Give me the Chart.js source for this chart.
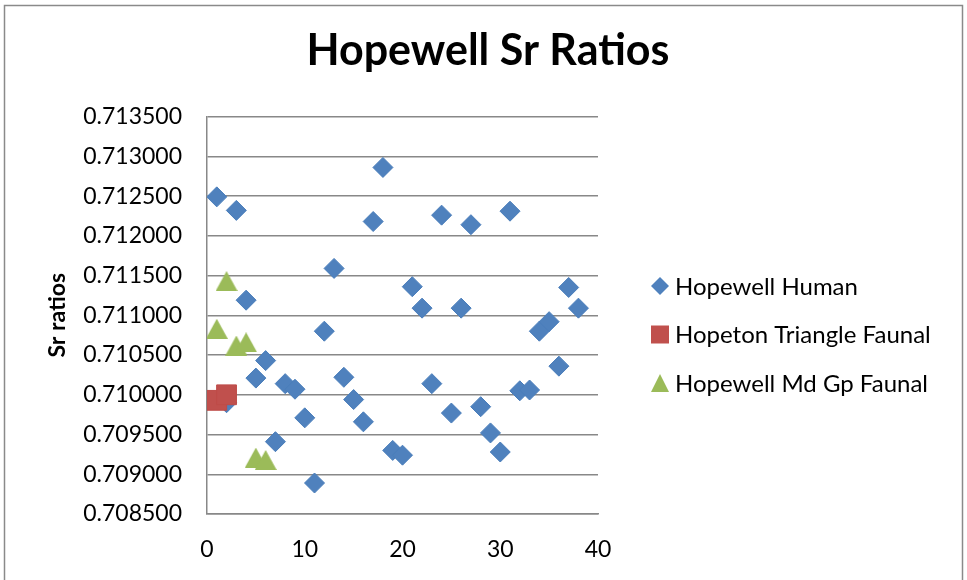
<!DOCTYPE html>
<html>
<head>
<meta charset="utf-8">
<title>Hopewell Sr Ratios</title>
<script src="https://cdn.jsdelivr.net/npm/chart.js@4.4.1/dist/chart.umd.min.js"></script>
<style>
    html, body { margin: 0; padding: 0; background: #fff; }
    #wrap { width: 967px; height: 580px; position: relative; }
</style>
</head>
<body>
<div id="wrap"><canvas id="srChart"></canvas></div>
<script>
/************************
 *      Data
 ************************/
const TITLE = "Hopewell Sr Ratios"
const Y_TITLE = "Sr ratios"
const SERIES_NAMES = ["Hopewell Human", "Hopeton Triangle Faunal", "Hopewell Md Gp Faunal"]

const HUMAN_X = [1, 2, 3, 4, 5, 6, 7, 8, 9, 10, 11, 12, 13, 14, 15, 16, 17, 18, 19,
    20, 21, 22, 23, 24, 25, 26, 27, 28, 29, 30, 31, 32, 33, 34, 35, 36, 37, 38]
const HUMAN_Y = [0.71249, 0.70990, 0.71232, 0.71119, 0.71021, 0.71043, 0.70941, 0.71014,
    0.71007, 0.70971, 0.70889, 0.71080, 0.71159, 0.71022, 0.70994, 0.70966, 0.71218,
    0.71286, 0.70930, 0.70924, 0.71136, 0.71109, 0.71014, 0.71226, 0.70977, 0.71109,
    0.71214, 0.70985, 0.70952, 0.70928, 0.71231, 0.71005, 0.71006, 0.71080, 0.71092,
    0.71036, 0.71135, 0.71109]

const HOPETON_X = [1, 2]
const HOPETON_Y = [0.70993, 0.71000]

const MDGP_X = [1, 2, 3, 4, 5, 6]
const MDGP_Y = [0.71083, 0.71143, 0.71062, 0.71066, 0.70921, 0.70918]

const X_TICKS = [0, 10, 20, 30, 40]
const Y_TICKS = [0.7085, 0.7090, 0.7095, 0.7100, 0.7105, 0.7110, 0.7115, 0.7120, 0.7125, 0.7130, 0.7135]

/************************
 *      Style
 ************************/
const FONT = "Lato, 'Open Sans', sans-serif"
const GRID_COLOR = "#888888"
const COLORS = ["#4F81BD", "#C0504D", "#9BBB59"]
const EDGES = ["#4A7EBB", "#BE4B48", "#98B954"]

/************************
 *      Method
 ************************/
// triangle marker as a small canvas so its box is centred on the value (like Excel)
const makeTriangle = (w, h, color) => {
    const c = document.createElement("canvas")
    c.width = w
    c.height = h
    const g = c.getContext("2d")
    g.fillStyle = color
    g.beginPath()
    g.moveTo(w / 2, 0)
    g.lineTo(w, h)
    g.lineTo(0, h)
    g.closePath()
    g.fill()
    return c
}

const STYLES = ["rectRot", "rect", makeTriangle(22, 20, COLORS[2])]
const RADII = [10, 14, 11]

const toPoints = (xs, ys) => xs.map((x, i) => ({ x: x, y: ys[i] }))

const makeDataset = (idx, xs, ys) => ({
    label: SERIES_NAMES[idx],
    data: toPoints(xs, ys),
    showLine: false,
    pointStyle: STYLES[idx],
    pointRadius: RADII[idx],
    pointHoverRadius: RADII[idx],
    backgroundColor: COLORS[idx],
    borderColor: EDGES[idx],
    pointBorderWidth: 1,
    order: 3 - idx
})

// draws a marker shape by hand for the legend
const drawMarker = (ctx, idx, x, y, size) => {
    ctx.beginPath()
    if (idx === 0) {
        ctx.moveTo(x - size, y)
        ctx.lineTo(x, y - size)
        ctx.lineTo(x + size, y)
        ctx.lineTo(x, y + size)
    } else if (idx === 1) {
        ctx.rect(x - size, y - size, size * 2, size * 2)
    } else {
        ctx.moveTo(x, y - size)
        ctx.lineTo(x + size, y + size)
        ctx.lineTo(x - size, y + size)
    }
    ctx.closePath()
    ctx.fill()
}

const framePlugin = {
    id: "frame",
    beforeDraw(chart) {
        const ctx = chart.ctx
        ctx.save()
        ctx.fillStyle = "#ffffff"
        ctx.fillRect(0, 0, chart.width, chart.height)
        ctx.strokeStyle = "#8a8a8a"
        ctx.lineWidth = 1.5
        ctx.strokeRect(4.5, 5.5, 958, 620)
        ctx.restore()
    },
    afterDraw(chart) {
        const ctx = chart.ctx
        const rowY = [286, 334.5, 383]
        ctx.save()
        ctx.font = "24px " + FONT
        ctx.textBaseline = "middle"
        ctx.textAlign = "left"
        chart.data.datasets.forEach((ds, i) => {
            ctx.fillStyle = COLORS[i]
            drawMarker(ctx, i, 660, rowY[i], 9)
            ctx.fillStyle = "#000000"
            ctx.fillText(ds.label, 675, rowY[i] + 1)
        })
        ctx.restore()
    }
}

const createChart = () => {
    const datasets = [
        makeDataset(0, HUMAN_X, HUMAN_Y),
        makeDataset(1, HOPETON_X, HOPETON_Y),
        makeDataset(2, MDGP_X, MDGP_Y)
    ]

    new Chart("srChart", {
        type: "scatter",
        data: { datasets: datasets },
        plugins: [framePlugin],
        options: {
            responsive: true,
            maintainAspectRatio: false,
            animation: false,
            devicePixelRatio: 1,
            layout: { padding: { left: 9, right: 0, top: 0, bottom: 0 } },
            plugins: {
                legend: { display: false },
                tooltip: { enabled: false },
                title: {
                    display: true,
                    text: TITLE,
                    color: "#000000",
                    font: { family: FONT, size: 43, weight: "bold" },
                    padding: { top: 25, bottom: 40 }
                }
            },
            scales: {
                x: {
                    type: "linear",
                    min: X_TICKS[0],
                    max: X_TICKS[X_TICKS.length - 1],
                    afterBuildTicks: s => { s.ticks = X_TICKS.map(v => ({ value: v })) },
                    afterFit: s => { s.height = 66 },
                    grid: { display: false, drawTicks: false },
                    border: { display: true, color: GRID_COLOR, width: 1.5 },
                    ticks: { color: "#000000", padding: 22, font: { family: FONT, size: 23 } }
                },
                y: {
                    type: "linear",
                    position: "left",
                    min: Y_TICKS[0],
                    max: Y_TICKS[Y_TICKS.length - 1],
                    afterBuildTicks: s => { s.ticks = Y_TICKS.map(v => ({ value: v })) },
                    afterFit: s => { s.width = 198 },
                    grid: { color: GRID_COLOR, lineWidth: 1.5, drawTicks: false },
                    border: { display: true, color: GRID_COLOR, width: 1.5 },
                    ticks: {
                        color: "#000000",
                        padding: 25,
                        font: { family: FONT, size: 23 },
                        callback: v => Number(v).toFixed(6)
                    },
                    title: {
                        display: true,
                        text: Y_TITLE,
                        color: "#000000",
                        font: { family: FONT, size: 23, weight: "bold" },
                        padding: { top: 35, bottom: 0 }
                    }
                },
                // empty right box that keeps room for the legend
                side: {
                    type: "linear",
                    position: "right",
                    display: true,
                    afterFit: s => { s.width = 369 },
                    grid: { display: false, drawTicks: false },
                    border: { display: false },
                    ticks: { display: false }
                }
            }
        }
    })
}

createChart()
</script>
</body>
</html>
